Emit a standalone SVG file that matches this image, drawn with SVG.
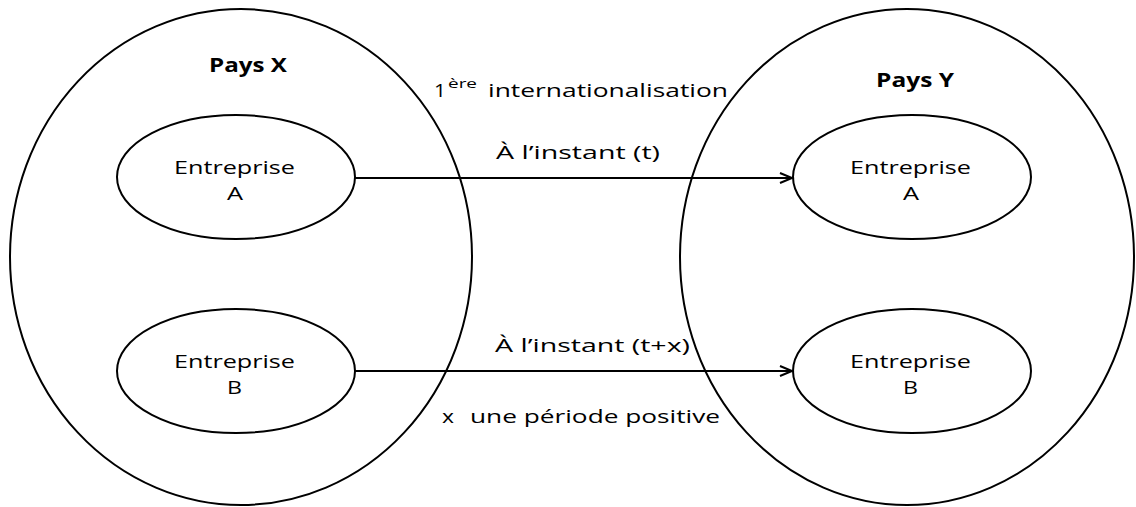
<svg xmlns="http://www.w3.org/2000/svg" width="1136" height="507" viewBox="0 0 1136 507">
<style>
.big{fill:none;stroke:#000;stroke-width:2}
.node{fill:#fff;stroke:#000;stroke-width:2}
text{font-family:"Open Sans","DejaVu Sans",sans-serif;font-size:19px;fill:#000}
.b{font-weight:bold;font-size:19px}
.sup{font-size:13px}
.conn{stroke:#000;stroke-width:2;fill:none;marker-end:url(#arr)}
</style>
<defs>
<marker id="arr" markerWidth="16" markerHeight="12" refX="13" refY="6" orient="auto" markerUnits="userSpaceOnUse">
<polyline points="1,1 13,6 1,11" fill="none" stroke="#000" stroke-width="2"/>
</marker>
</defs>
<g id="paysX">
<ellipse class="big" cx="241" cy="257" rx="231" ry="248"/>
<text class="b" x="209" y="72" textLength="78" lengthAdjust="spacingAndGlyphs">Pays X</text>
</g>
<g id="paysY">
<ellipse class="big" cx="907" cy="257" rx="227" ry="248"/>
<text class="b" x="876" y="87" textLength="78" lengthAdjust="spacingAndGlyphs">Pays Y</text>
</g>
<g id="xA">
<ellipse class="node" cx="236" cy="177" rx="119" ry="62"/>
<text x="174" y="174" textLength="121" lengthAdjust="spacingAndGlyphs">Entreprise</text>
<text x="227" y="200" textLength="16" lengthAdjust="spacingAndGlyphs">A</text>
</g>
<g id="xB">
<ellipse class="node" cx="236" cy="371" rx="119" ry="62"/>
<text x="227" y="394" textLength="15" lengthAdjust="spacingAndGlyphs">B</text>
<text x="174" y="368" textLength="121" lengthAdjust="spacingAndGlyphs">Entreprise</text>
</g>
<g id="yA">
<ellipse class="node" cx="912" cy="177" rx="119" ry="62"/>
<text x="850" y="174" textLength="121" lengthAdjust="spacingAndGlyphs">Entreprise</text>
<text x="903" y="200" textLength="16" lengthAdjust="spacingAndGlyphs">A</text>
</g>
<g id="yB">
<ellipse class="node" cx="912" cy="371" rx="119" ry="62"/>
<text x="850" y="368" textLength="121" lengthAdjust="spacingAndGlyphs">Entreprise</text>
<text x="903" y="394" textLength="15" lengthAdjust="spacingAndGlyphs">B</text>
</g>
<g id="connectors">
<line class="conn" x1="355" y1="178" x2="792" y2="178"/>
<line class="conn" x1="355" y1="371" x2="792" y2="371"/>
</g>
<g id="labels">
<text x="434" y="97" textLength="12" lengthAdjust="spacingAndGlyphs">1</text>
<text class="sup" x="448" y="88" textLength="29" lengthAdjust="spacingAndGlyphs">ère</text>
<text x="488" y="97" textLength="240" lengthAdjust="spacingAndGlyphs">internationalisation</text>
<text x="496" y="159" textLength="164" lengthAdjust="spacingAndGlyphs">À l’instant (t)</text>
<text x="495" y="352" textLength="195" lengthAdjust="spacingAndGlyphs">À l’instant (t+x)</text>
<text x="442" y="423" textLength="12" lengthAdjust="spacingAndGlyphs">x</text>
<text x="470" y="423" textLength="250" lengthAdjust="spacingAndGlyphs">une période positive</text>
</g>
</svg>
